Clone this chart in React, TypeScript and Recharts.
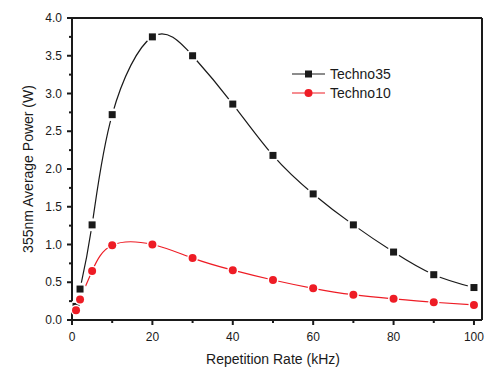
import React from "react";
import {
  LineChart,
  Line,
  XAxis,
  YAxis,
  ReferenceLine,
} from "recharts";

const rates = [1, 2, 5, 10, 20, 30, 40, 50, 60, 70, 80, 90, 100];
const techno35 = [0.18, 0.41, 1.26, 2.72, 3.75, 3.5, 2.86, 2.18, 1.67, 1.26, 0.9, 0.6, 0.43];
const techno10 = [0.13, 0.27, 0.65, 0.99, 1.0, 0.82, 0.66, 0.53, 0.42, 0.335, 0.28, 0.235, 0.2];
const xTicks = [0, 10, 20, 30, 40, 50, 60, 70, 80, 90, 100];
const yTicks = [0, 0.25, 0.5, 0.75, 1, 1.25, 1.5, 1.75, 2, 2.25, 2.5, 2.75, 3, 3.25, 3.5, 3.75, 4];

const data = rates.map((r, i) => ({ rate: r, t35: techno35[i], t10: techno10[i] }));

const BLACK = "#1a1a1a";
const RED = "#ee1c25";
const FONT = "'Liberation Sans', Arial, sans-serif";

const XTick = (props: any) => {
  const { x, y, payload } = props;
  const major = payload.value % 20 === 0;
  return (
    <g>
      <line x1={x} x2={x} y1={y} y2={y + (major ? 5 : 3)} stroke={BLACK} strokeWidth={2} />
      {major && (
        <text x={x} y={y + 21} textAnchor="middle" fontSize={12} fill={BLACK} fontFamily={FONT}>
          {payload.value}
        </text>
      )}
    </g>
  );
};

const YTick = (props: any) => {
  const { x, y, payload } = props;
  const major = Math.abs((payload.value * 2) % 1) < 1e-6;
  return (
    <g>
      <line x1={x} x2={x - (major ? 5 : 3)} y1={y} y2={y} stroke={BLACK} strokeWidth={2} />
      {major && (
        <text x={x - 10} y={y + 4} textAnchor="end" fontSize={12} fill={BLACK} fontFamily={FONT}>
          {payload.value.toFixed(1)}
        </text>
      )}
    </g>
  );
};

const SquareDot = (props: any) => {
  const { cx, cy } = props;
  if (cx == null || cy == null) return null;
  return (
    <g>
      <circle cx={cx} cy={cy} r={6.5} fill="#fff" />
      <rect x={cx - 3.5} y={cy - 3.5} width={7} height={7} fill={BLACK} />
    </g>
  );
};

const CircleDot = (props: any) => {
  const { cx, cy } = props;
  if (cx == null || cy == null) return null;
  return (
    <g>
      <circle cx={cx} cy={cy} r={5.5} fill="#fff" />
      <circle cx={cx} cy={cy} r={4} fill={RED} />
    </g>
  );
};

const LegendBox = () => (
  <svg width={120} height={40} style={{ position: "absolute", left: 292, top: 67 }}>
    <line x1={0} x2={33} y1={7} y2={7} stroke={BLACK} strokeWidth={1.2} />
    <rect x={13} y={3.5} width={7} height={7} fill={BLACK} />
    <text x={38} y={12} fontSize={14} fill={BLACK} fontFamily={FONT}>Techno35</text>
    <line x1={0} x2={33} y1={26} y2={26} stroke={RED} strokeWidth={1.2} />
    <circle cx={16.5} cy={26} r={4} fill={RED} />
    <text x={38} y={31} fontSize={14} fill={BLACK} fontFamily={FONT}>Techno10</text>
  </svg>
);

export default function App() {
  return (
    <div style={{ position: "absolute", left: 0, top: 0, width: 493, height: 367, background: "#fff" }}>
      <LineChart width={493} height={367} data={data} margin={{ top: 18, right: 11, bottom: 0, left: 0 }}>
        <XAxis
          dataKey="rate"
          type="number"
          domain={[0, 102]}
          ticks={xTicks}
          interval={0}
          tickSize={0}
          tickMargin={0}
          tickLine={false}
          tick={<XTick />}
          axisLine={{ stroke: BLACK, strokeWidth: 2 }}
          height={47}
          label={{ value: "Repetition Rate (kHz)", position: "insideBottom", offset: 3, fontSize: 14, fill: BLACK, fontFamily: FONT, dx: -4 }}
        />
        <YAxis
          type="number"
          domain={[0, 4]}
          ticks={yTicks}
          interval={0}
          tickSize={0}
          tickMargin={0}
          tickLine={false}
          tick={<YTick />}
          axisLine={{ stroke: BLACK, strokeWidth: 2 }}
          width={72}
          label={{ value: "355nm Average Power (W)", angle: -90, position: "insideLeft", offset: 0, dx: 28, dy: 0, fontSize: 14, fill: BLACK, fontFamily: FONT, style: { textAnchor: "middle" } }}
        />
        <ReferenceLine y={4} stroke={BLACK} strokeWidth={2} />
        <ReferenceLine x={102} stroke={BLACK} strokeWidth={2} />
        <Line
          type="natural"
          dataKey="t35"
          stroke={BLACK}
          strokeWidth={1.2}
          dot={<SquareDot />}
          activeDot={false}
          isAnimationActive={false}
        />
        <Line
          type="natural"
          dataKey="t10"
          stroke={RED}
          strokeWidth={1.2}
          dot={<CircleDot />}
          activeDot={false}
          isAnimationActive={false}
        />
      </LineChart>
      <LegendBox />
    </div>
  );
}
